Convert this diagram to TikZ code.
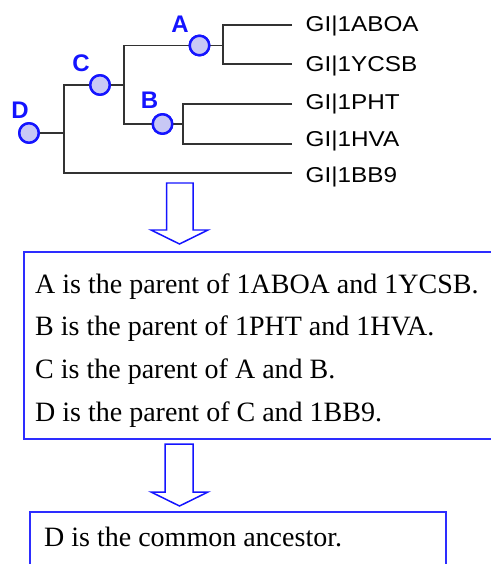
\documentclass[tikz,border=0pt]{standalone}
\usepackage{fontspec}
\setmainfont{Liberation Serif}
\setsansfont{Liberation Sans}
\definecolor{nodeblue}{RGB}{20,20,255}
\definecolor{nodefill}{RGB}{200,200,245}
\definecolor{boxblue}{RGB}{45,45,255}
\definecolor{treeline}{RGB}{50,50,50}
\tikzset{
  treenode/.style={circle,draw=nodeblue,fill=nodefill,line width=2.4pt,minimum size=19.5bp,inner sep=0pt},
  nodelabel/.style={text=nodeblue,font=\sffamily\bfseries\fontsize{24bp}{28bp}\selectfont,inner sep=0pt},
  leaflabel/.style={anchor=base west,inner sep=0pt,font=\sffamily\fontsize{21.5bp}{25bp}\selectfont},
  branch/.style={draw=treeline,line width=1.5pt},
  infobox/.style={draw=boxblue,line width=1.6pt},
  infotext/.style={anchor=base west,inner sep=0pt,font=\fontsize{28bp}{34bp}\selectfont},
  flowarrow/.style={draw=nodeblue,line width=1.5pt,fill=white,line join=miter}
}
\newcommand{\leaf}[1]{\scalebox{1.13}[1]{#1}}
\begin{document}
\begin{tikzpicture}[x=1bp,y=-1bp]
\useasboundingbox (0,0) rectangle (491,564);
% tree nodes
\node[treenode] (A) at (199.5,45.5) {};
\node[treenode] (C) at (100,85) {};
\node[treenode] (B) at (162.5,124) {};
\node[treenode] (D) at (29,133) {};
\node[nodelabel] (lA) at (180,24.5) {A};
\node[nodelabel] (lC) at (81,63) {C};
\node[nodelabel] (lB) at (149.5,100) {B};
\node[nodelabel] (lD) at (20,110) {D};
% leaves
\node[leaflabel] (l1) at (305.5,32) {\leaf{GI|1ABOA}};
\node[leaflabel] (l2) at (305.5,71.5) {\leaf{GI|1YCSB}};
\node[leaflabel] (l3) at (305.5,110) {\leaf{GI|1PHT}};
\node[leaflabel] (l4) at (305.5,147) {\leaf{GI|1HVA}};
\node[leaflabel] (l5) at (305.5,182) {\leaf{GI|1BB9}};
\coordinate (e1) at (292,25);
\coordinate (e2) at (292,64);
\coordinate (e3) at (292,104);
\coordinate (e4) at (292,144);
\coordinate (e5) at (292,173);
% junctions
\coordinate (jA) at (223,45.5);
\coordinate (jB) at (183,124);
\coordinate (jC) at (124,85);
\coordinate (jD) at (64,133);
% branches
\draw[branch] (A.east) -- (jA);
\draw[branch] (e1) -| (jA) |- (e2);
\draw[branch] (B.east) -- (jB);
\draw[branch] (e3) -| (jB) |- (e4);
\draw[branch] (C.east) -- (jC);
\draw[branch] (A.west) -| (jC) |- (B.west);
\draw[branch] (D.east) -- (jD);
\draw[branch] (C.west) -| (jD) |- (e5);
% redraw nodes on top
\node[treenode] at (A) {};
\node[treenode] at (C) {};
\node[treenode] at (B) {};
\node[treenode] at (D) {};
% arrow 1
\draw[flowarrow] (166.5,183) -- (193,183) -- (193,230) -- (208,230) -- (179.5,244) -- (151,230) -- (166.5,230) -- cycle;
% box 1
\draw[infobox] (500,252) -- (24,252) -- (24,439) -- (500,439);
\node[infotext] (t1) at (35,293.5) {A is the parent of 1ABOA and 1YCSB.};
\node[infotext] (t2) at (35,335.5) {B is the parent of 1PHT and 1HVA.};
\node[infotext] (t3) at (35,378.5) {C is the parent of A and B.};
\node[infotext] (t4) at (35,421.5) {D is the parent of C and 1BB9.};
% arrow 2
\draw[flowarrow] (165,444) -- (193,444) -- (193,492) -- (208,492) -- (179.5,506) -- (151,492) -- (165,492) -- cycle;
% box 2
\draw[infobox] (30,575) -- (30,512) -- (446,512) -- (446,575);
\node[infotext] (t5) at (44,546.5) {D is the common ancestor.};
\end{tikzpicture}
\end{document}
